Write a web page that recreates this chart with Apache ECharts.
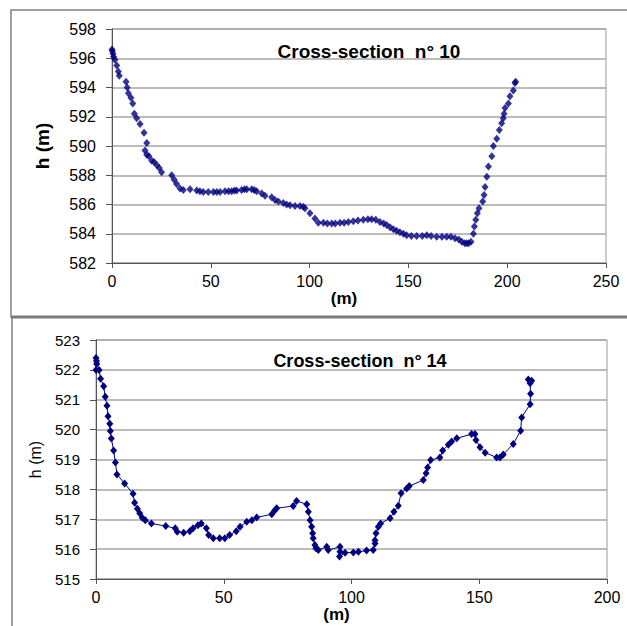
<!DOCTYPE html>
<html>
<head>
<meta charset="utf-8">
<script src="https://cdn.jsdelivr.net/npm/echarts@6/dist/echarts.min.js"></script>
<style>
  html, body { margin: 0; padding: 0; background: #fff; }
  #chart { width: 627px; height: 626px; }
</style>
</head>
<body>
<div id="chart"></div>
<script>
// cross-section 10 (scatter, dense survey points)
const x10 = [0, 0.2, 0.5, 0.8, 1.5, 2.4, 3.2, 3.7, 7.1, 7.7, 8.3, 9.6, 10.5, 11.3, 12.5, 14.2, 16.2, 17.6, 16.7, 17.6,
  18.7, 20.1, 21.3, 22.6, 23.9, 25.1, 30.2, 31.5, 32.7, 34.4, 36.1, 39.5, 42.9, 44.5, 46.2, 48.7, 51.3, 53, 54.7, 57.2,
  59, 60.6, 62, 63.1, 65.6, 67, 68.2, 70.7, 72, 73.2, 75.8, 77.4, 80.8, 82.5, 84.2, 86.7, 88.4, 90.1, 92.6, 95.1,
  96.8, 97.7, 100.2, 102.7, 104.4, 107, 109, 111.2, 113, 115.4, 117.5, 119.6, 122.1, 124.5, 127.2, 129.5, 131.4, 133.5, 135.6, 137.5,
  139, 140.7, 142.4, 144, 145.7, 147.5, 149.1, 151.5, 154.2, 157, 159.3, 161.5, 164.3, 167, 169.4, 171.5, 173.6, 175.5, 177, 178.5,
  179.5, 180.5, 181.7, 182.9, 183.4, 184.1, 184.9, 185.7, 187.6, 188.3, 188.8, 189.7, 190.5, 192.2, 193, 194.7, 196, 197.2, 198,
  198.4, 198.9, 200.6, 201.4, 203.1, 203.9, 204.3];
const h10 = [596.6, 596.5, 596.3, 596.1, 595.9, 595.5, 595.1, 594.8, 594.4, 594.0, 593.6, 593.3, 592.9, 592.2, 591.9, 591.5, 590.9, 590.2, 589.7, 589.4,
  589.3, 589.0, 588.9, 588.7, 588.5, 588.2, 588.0, 587.7, 587.4, 587.1, 587.0, 587.05, 586.95, 586.9, 586.85, 586.85, 586.85, 586.85, 586.85, 586.9,
  586.9, 586.9, 586.95, 586.95, 587.0, 587.05, 587.05, 587.05, 587.0, 586.9, 586.75, 586.6, 586.5, 586.3, 586.2, 586.1, 586.0, 585.95, 585.9, 585.9,
  585.85, 585.75, 585.4, 585.05, 584.75, 584.75, 584.7, 584.7, 584.7, 584.75, 584.75, 584.8, 584.85, 584.9, 584.95, 585.0, 585.0, 584.95, 584.8, 584.7,
  584.6, 584.45, 584.3, 584.2, 584.1, 584.0, 583.9, 583.85, 583.85, 583.85, 583.9, 583.85, 583.8, 583.8, 583.8, 583.8, 583.7, 583.6, 583.45, 583.35,
  583.35, 583.35, 583.45, 584.0, 584.5, 584.95, 585.4, 585.75, 586.2, 586.65, 587.2, 587.9, 588.6, 589.3, 590.0, 590.5, 591.1, 591.55, 591.9,
  592.2, 592.6, 592.9, 593.4, 593.8, 594.3, 594.4];

// cross-section 14 (line with markers, in survey order)
const x14 = [0, 0.2, 0.3, 0, 1.2, 1.8, 3.0, 3.6, 4.3, 4.7, 5.4, 5.6, 6.0, 6.9, 7.6, 8.2, 11.2, 14.5, 15.1, 16.2,
  17.1, 18.1, 19.3, 21.7, 27.3, 31.0, 31.8, 34.3, 36.7, 38, 39.9, 41.2, 43.2, 44.1, 45.9, 48.4, 50.4, 52.3, 54.9, 56.4,
  59, 61, 62.9, 68.8, 70.0, 70.7, 77.2, 78.5, 82.5, 83.1, 83.8, 84.4, 84.8, 85, 85.7, 86.1, 87, 90.3, 90.9, 95.5,
  95.5, 95.3, 97.5, 100.7, 102.7, 105.9, 108.5, 109.2, 109.2, 109.6, 110.5, 111.4, 115.1, 116.6, 118.3, 119.4, 121.6, 122.6, 128.1, 129.2,
  129.8, 131, 134.6, 135.7, 137.9, 139.2, 141.2, 147, 148.3, 148.7, 150.3, 152.3, 156.8, 158.1, 159.4, 163.3, 166.2, 166.6, 169.9, 170.1,
  169.9, 169.2, 170.5];
const h14 = [522.4, 522.3, 522.2, 522.0, 522.0, 521.7, 521.45, 521.1, 520.8, 520.45, 520.2, 519.95, 519.7, 519.3, 518.9, 518.5, 518.2, 517.85, 517.55, 517.35,
  517.2, 517.05, 516.97, 516.86, 516.77, 516.7, 516.58, 516.55, 516.6, 516.7, 516.8, 516.86, 516.7, 516.47, 516.36, 516.36, 516.36, 516.47, 516.6, 516.75,
  516.92, 516.97, 517.06, 517.17, 517.3, 517.37, 517.44, 517.61, 517.5, 517.25, 516.97, 516.75, 516.53, 516.36, 516.14, 516.03, 515.97, 516.08, 515.97, 516.08,
  515.91, 515.75, 515.88, 515.89, 515.91, 515.95, 515.97, 516.19, 516.3, 516.53, 516.75, 516.86, 517.03, 517.25, 517.45, 517.87, 518.03, 518.11, 518.31, 518.54,
  518.73, 518.98, 519.07, 519.3, 519.49, 519.6, 519.71, 519.85, 519.85, 519.65, 519.41, 519.23, 519.07, 519.07, 519.17, 519.52, 519.96, 520.41, 520.85, 521.2,
  521.55, 521.68, 521.64];

const titles = ["Cross-section  n° 10", "Cross-section  n° 14"];

const NAVY = "#000080";
const FONT = "Liberation Sans";

const zip = (xs, ys) => xs.map((x, i) => [x, ys[i]]);

const chart = echarts.init(document.getElementById("chart"), null, { renderer: "svg" });

function xAxisOf(gridIndex, max, fontSize, nameGap) {
  return {
    gridIndex, type: "value", min: 0, max, interval: 50,
    name: "(m)", nameLocation: "middle", nameGap,
    nameTextStyle: { fontFamily: FONT, fontSize: 17, fontWeight: "bold", color: "#000", padding: [0, 30, 0, 0] },
    axisLine: { show: true, onZero: false, lineStyle: { color: "#555", width: 1 } },
    axisTick: { show: true, length: 5, lineStyle: { color: "#555" } },
    axisLabel: { fontFamily: FONT, fontSize, color: "#000", margin: 10 },
    splitLine: { show: false },
  };
}

function yAxisOf(gridIndex, min, max, interval, fontSize, nameSize, nameBold, nameGap) {
  return {
    gridIndex, type: "value", min, max, interval,
    name: "h (m)", nameLocation: "middle", nameGap,
    nameTextStyle: { fontFamily: FONT, fontSize: nameSize, fontWeight: nameBold ? "bold" : "normal", color: "#000" },
    axisLine: { show: true, onZero: false, lineStyle: { color: "#555", width: 1 } },
    axisTick: { show: true, length: 6, lineStyle: { color: "#555" } },
    axisLabel: { fontFamily: FONT, fontSize, color: "#000", margin: 16 },
    splitLine: { show: true, lineStyle: { color: "#a6a6a6", width: 1.5 } },
  };
}

chart.setOption({
  backgroundColor: "#fff",
  animation: false,
  title: [
    { text: titles[0], left: 364, top: 37, textAlign: "center",
      textStyle: { fontFamily: FONT, fontSize: 19, fontWeight: "bold", color: "#000" } },
    { text: titles[1], left: 355, top: 347, textAlign: "center",
      textStyle: { fontFamily: FONT, fontSize: 18, fontWeight: "bold", color: "#000" } },
  ],
  graphic: [
    { type: "rect", shape: { x: 11, y: 10, width: 640, height: 307 }, style: { fill: "none", stroke: "#808080", lineWidth: 1.5 }, silent: true },
    { type: "rect", shape: { x: 12, y: 317, width: 640, height: 400 }, style: { fill: "none", stroke: "#808080", lineWidth: 1.5 }, silent: true },
    { type: "line", shape: { x1: 11, y1: 317, x2: 627, y2: 317 }, style: { stroke: "#7a7a7a", lineWidth: 3 }, silent: true },
  ],
  grid: [
    { left: 112, top: 29, width: 494, height: 234, show: true, borderColor: "#999", borderWidth: 1 },
    { left: 96, top: 340, width: 511, height: 239, show: true, borderColor: "#999", borderWidth: 1 },
  ],
  xAxis: [xAxisOf(0, 250, 16, 22), xAxisOf(1, 200, 16, 24)],
  yAxis: [yAxisOf(0, 582, 598, 2, 16, 19, true, 60), yAxisOf(1, 515, 523, 1, 15, 16, false, 53)],
  series: [
    {
      name: titles[0], type: "scatter", xAxisIndex: 0, yAxisIndex: 0,
      data: zip(x10, h10),
      symbol: "diamond", symbolSize: [7, 8],
      itemStyle: { color: NAVY },
    },
    {
      name: titles[1], type: "line", xAxisIndex: 1, yAxisIndex: 1,
      data: zip(x14, h14),
      symbol: "diamond", symbolSize: [7, 8], showAllSymbol: true,
      lineStyle: { color: NAVY, width: 1 },
      itemStyle: { color: NAVY, borderWidth: 0 },
    },
  ],
});
</script>
</body>
</html>
